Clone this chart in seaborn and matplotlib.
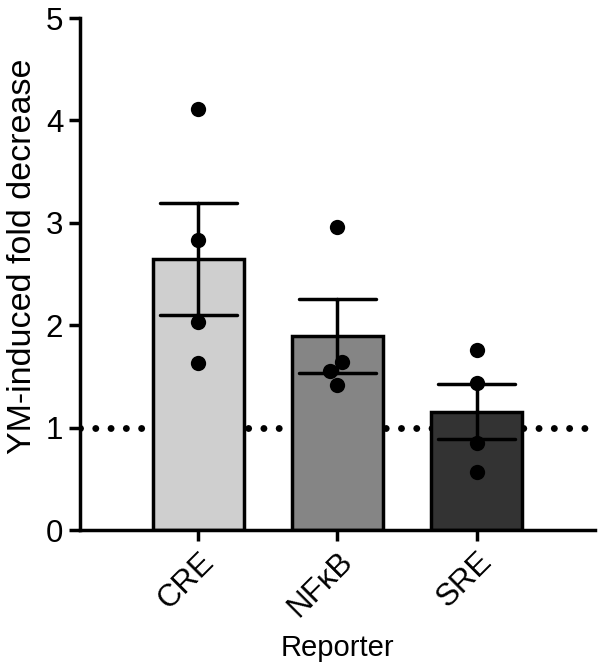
import pandas as pd
import seaborn as sns
import matplotlib.pyplot as plt

reporters = ['CRE', 'NFκB', 'SRE']
cre = [4.11, 2.83, 2.03, 1.63]
nfkb = [2.96, 1.64, 1.55, 1.42]
sre = [1.76, 1.44, 0.85, 0.57]
bar_colors = ['#cfcfcf', '#858585', '#333333']

df = pd.DataFrame({
    'reporter': ['CRE'] * len(cre) + ['NFκB'] * len(nfkb) + ['SRE'] * len(sre),
    'value': cre + nfkb + sre,
})

sns.set_style('ticks')
plt.rcParams['font.family'] = ['Liberation Sans', 'DejaVu Sans']
plt.rcParams['text.color'] = 'black'
plt.rcParams['axes.labelcolor'] = 'black'
plt.rcParams['axes.edgecolor'] = 'black'
plt.rcParams['xtick.color'] = 'black'
plt.rcParams['ytick.color'] = 'black'

fig, ax = plt.subplots(figsize=(6, 6.71), dpi=100)
fig.subplots_adjust(left=80 / 600, right=595 / 600, top=1 - 18 / 671, bottom=1 - 530 / 671)

# baseline at 1 (no change)
ax.axhline(1, color='black', lw=5, ls=(0, (0.001, 2.2)), dash_capstyle='round', zorder=0)

sns.barplot(data=df, x='reporter', y='value', hue='reporter', order=reporters,
            palette=bar_colors, width=0.65, errorbar='se', capsize=0.55,
            err_kws={'color': 'black', 'linewidth': 2.5},
            edgecolor='black', linewidth=2.5, legend=False, ax=ax, zorder=1)
sns.swarmplot(data=df, x='reporter', y='value', order=reporters, color='black',
              size=11, ax=ax, zorder=3)

ax.set_ylim(0, 5)
ax.set_xlim(-0.85, 2.85)
ax.set_yticks([0, 1, 2, 3, 4, 5])
ax.set_xlabel('Reporter', fontsize=21, labelpad=8)
ax.set_ylabel('YM-induced fold decrease', fontsize=24.5)
ax.yaxis.set_label_coords(-0.082, 0.535)
ax.tick_params(axis='both', labelsize=22.5, width=2.5, length=8, pad=4)
plt.setp(ax.get_xticklabels(), rotation=45, ha='right', rotation_mode='anchor')
for s in ['left', 'bottom']:
    ax.spines[s].set_linewidth(2.5)
sns.despine(ax=ax)

fig.savefig('out.png', dpi=100)
